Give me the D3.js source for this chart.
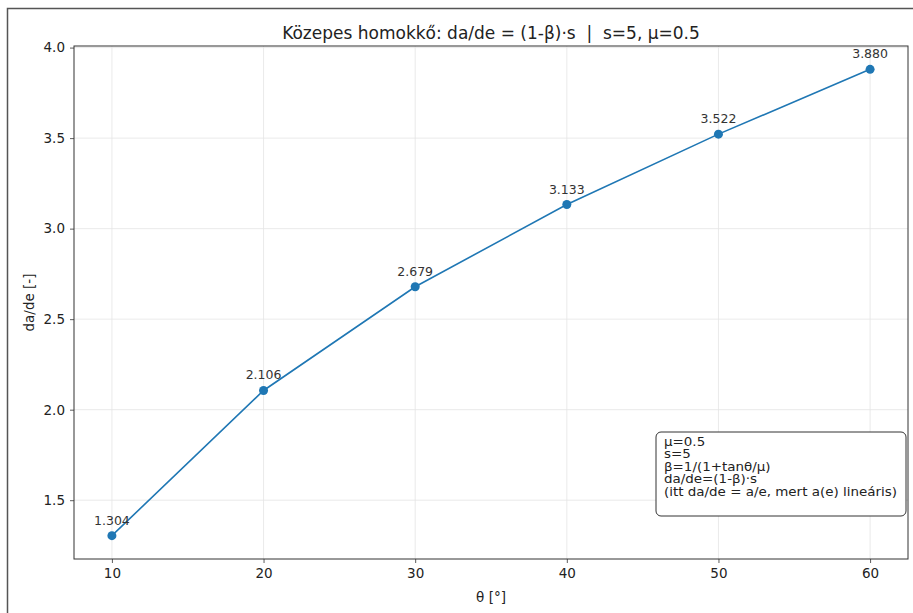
<!DOCTYPE html>
<html>
<head>
<meta charset="utf-8">
<script src="https://cdn.jsdelivr.net/npm/d3@7"></script>
<style>
  html, body { margin: 0; padding: 0; background: #fff; }
  svg { display: block; font-family: "DejaVu Sans", sans-serif; }
</style>
</head>
<body>
<svg id="chart" width="913" height="613"></svg>
<script>
// θ angles [°] and the resulting da/de values
const thetas = [10, 20, 30, 40, 50, 60];
const dadeValues = [1.304, 2.106, 2.679, 3.133, 3.522, 3.880];
const xTicks = [10, 20, 30, 40, 50, 60];
const yTicks = [1.5, 2.0, 2.5, 3.0, 3.5, 4.0];
const infoLines = [
  "μ=0.5",
  "s=5",
  "β=1/(1+tanθ/μ)",
  "da/de=(1-β)·s",
  "(itt da/de = a/e, mert a(e) lineáris)"
];

const svg = d3.select("#chart");
const W = 913, H = 613;
const plot = { left: 74, right: 908, top: 46, bottom: 559 };

// outer frame
svg.append("path")
  .attr("d", `M7.5,${H} V8.5 H${W}`)
  .attr("fill", "none").attr("stroke", "#555").attr("stroke-width", 1.5);

// scales with 5% padding like a default matplotlib axes
const xMin = d3.min(thetas), xMax = d3.max(thetas);
const xPad = (xMax - xMin) * 0.05;
const yMin = d3.min(dadeValues), yMax = d3.max(dadeValues);
const yPad = (yMax - yMin) * 0.05;
const x = d3.scaleLinear().domain([xMin - xPad, xMax + xPad]).range([plot.left, plot.right]);
const y = d3.scaleLinear().domain([yMin - yPad, yMax + yPad]).range([plot.bottom, plot.top]);

// grid
const grid = svg.append("g").attr("stroke", "#e4e4e4").attr("stroke-width", 0.8);
grid.selectAll(".gx").data(xTicks).join("line")
  .attr("x1", d => x(d)).attr("x2", d => x(d))
  .attr("y1", plot.top).attr("y2", plot.bottom);
grid.selectAll(".gy").data(yTicks).join("line")
  .attr("x1", plot.left).attr("x2", plot.right)
  .attr("y1", d => y(d)).attr("y2", d => y(d));

// axes
const xAxis = svg.append("g").attr("transform", `translate(0,${plot.bottom})`)
  .call(d3.axisBottom(x).tickValues(xTicks).tickFormat(d3.format("d")).tickSize(4).tickPadding(5));
const yAxis = svg.append("g").attr("transform", `translate(${plot.left},0)`)
  .call(d3.axisLeft(y).tickValues(yTicks).tickFormat(d3.format(".1f")).tickSize(4).tickPadding(5));
[xAxis, yAxis].forEach(a => {
  a.select(".domain").remove();
  a.selectAll("text").attr("font-size", 13.5).attr("fill", "#222").attr("font-family", "DejaVu Sans, sans-serif");
  a.selectAll("line").attr("stroke", "#333").attr("stroke-width", 0.8);
});

// axes frame
svg.append("rect")
  .attr("x", plot.left).attr("y", plot.top)
  .attr("width", plot.right - plot.left).attr("height", plot.bottom - plot.top)
  .attr("fill", "none").attr("stroke", "#333").attr("stroke-width", 1);

// data line and markers
const pts = thetas.map((t, i) => [t, dadeValues[i]]);
svg.append("path")
  .attr("d", d3.line().x(d => x(d[0])).y(d => y(d[1]))(pts))
  .attr("fill", "none").attr("stroke", "#1f77b4").attr("stroke-width", 1.6);
svg.selectAll(".pt").data(pts).join("circle")
  .attr("cx", d => x(d[0])).attr("cy", d => y(d[1])).attr("r", 4.5)
  .attr("fill", "#1f77b4");

// value labels
svg.selectAll(".lbl").data(pts).join("text")
  .attr("x", d => x(d[0])).attr("y", d => y(d[1]) - 11)
  .attr("text-anchor", "middle").attr("font-size", 12.5).attr("fill", "#333")
  .text(d => d[1].toFixed(3));

// title and axis labels
svg.append("text")
  .attr("x", (plot.left + plot.right) / 2).attr("y", 39)
  .attr("text-anchor", "middle").attr("font-size", 17).attr("fill", "#222")
  .style("white-space", "pre")
  .text("Közepes homokkő: da/de = (1-β)·s  |  s=5, μ=0.5");
svg.append("text")
  .attr("x", (plot.left + plot.right) / 2).attr("y", 602)
  .attr("text-anchor", "middle").attr("font-size", 13.5).attr("fill", "#222")
  .text("θ [°]");
svg.append("text")
  .attr("transform", `translate(34,${(plot.top + plot.bottom) / 2}) rotate(-90)`)
  .attr("text-anchor", "middle").attr("font-size", 13.5).attr("fill", "#222")
  .text("da/de [-]");

// info box
const box = { x: 656, y: 432, w: 250, h: 84 };
svg.append("rect")
  .attr("x", box.x).attr("y", box.y).attr("width", box.w).attr("height", box.h)
  .attr("rx", 5).attr("ry", 5)
  .attr("fill", "#fff").attr("stroke", "#333").attr("stroke-width", 1);
svg.append("g").selectAll("text").data(infoLines).join("text")
  .attr("transform", (d, i) => `translate(${box.x + 8},${box.y + 14 + i * 12.4}) scale(1.17,1)`)
  .attr("font-size", 11.5).attr("fill", "#222")
  .text(d => d);
</script>
</body>
</html>
